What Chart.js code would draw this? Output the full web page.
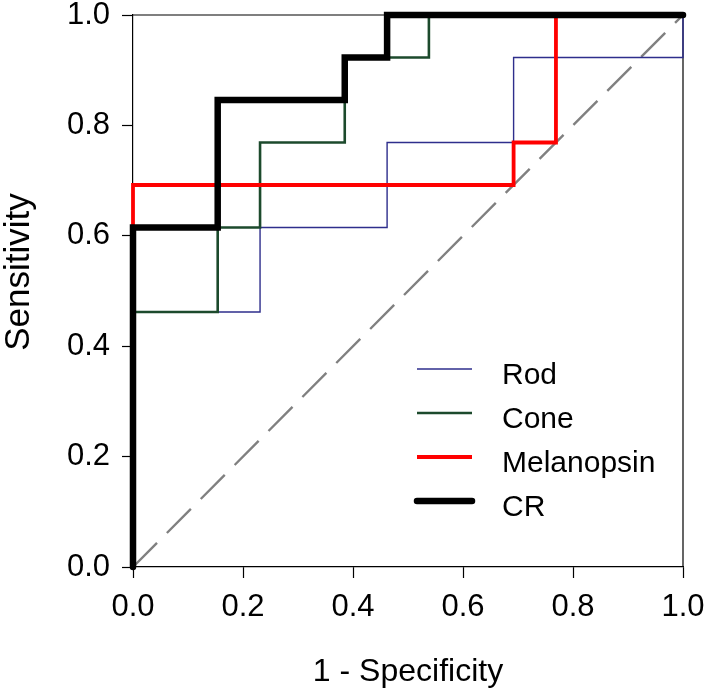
<!DOCTYPE html>
<html>
<head>
<meta charset="utf-8">
<script src="https://cdn.jsdelivr.net/npm/chart.js@4.4.0/dist/chart.umd.min.js"></script>
<style>
  body { margin: 0; background: #fff; }
</style>
</head>
<body>
<canvas id="rocChart" width="705" height="692"></canvas>
<script>

//// ROC curve vertices (1 - specificity, sensitivity) ////
const rodX  = [0, 0, 0.231, 0.231, 0.462, 0.462, 0.692, 0.692, 1, 1];
const rodY  = [0, 0.462, 0.462, 0.615, 0.615, 0.769, 0.769, 0.923, 0.923, 1];
const coneX = [0, 0, 0.154, 0.154, 0.231, 0.231, 0.385, 0.385, 0.538, 0.538, 1];
const coneY = [0, 0.462, 0.462, 0.615, 0.615, 0.769, 0.769, 0.923, 0.923, 1, 1];
const melX  = [0, 0, 0.692, 0.692, 0.769, 0.769, 1];
const melY  = [0, 0.692, 0.692, 0.769, 0.769, 1, 1];
const crX   = [0, 0, 0.154, 0.154, 0.385, 0.385, 0.462, 0.462, 1];
const crY   = [0, 0.615, 0.615, 0.846, 0.846, 0.923, 0.923, 1, 1];
const refX  = [0, 1];
const refY  = [0, 1];

const seriesNames = ['Rod', 'Cone', 'Melanopsin', 'CR'];
const tickValues = [0, 0.2, 0.4, 0.6, 0.8, 1.0];
const xTitle = '1 - Specificity';
const yTitle = 'Sensitivity';

const FONT = "'Liberation Sans', Arial, sans-serif";

function pts(xs, ys) {
    return xs.map((x, i) => ({x: x, y: ys[i]}));
}

// top + right border of the plot box
const frame = {
    id: 'frame',
    beforeDatasetsDraw(chart) {
        const a = chart.chartArea, ctx = chart.ctx;
        ctx.save();
        ctx.strokeStyle = '#000';
        ctx.lineWidth = 1.2;
        ctx.beginPath();
        ctx.moveTo(a.left, a.top);
        ctx.lineTo(a.right, a.top);
        ctx.lineTo(a.right, a.bottom);
        ctx.stroke();
        ctx.restore();
    }
};

// y title sits a bit above the middle of the axis in the original
const yTitlePlugin = {
    id: 'yTitlePlugin',
    afterDraw(chart) {
        const a = chart.chartArea, ctx = chart.ctx;
        ctx.save();
        ctx.translate(19, (a.top + a.bottom) / 2 - 19);
        ctx.rotate(-Math.PI / 2);
        ctx.fillStyle = '#000';
        ctx.font = '35px ' + FONT;
        ctx.textAlign = 'center';
        ctx.textBaseline = 'middle';
        ctx.fillText(yTitle, 0, 0);
        ctx.restore();
    }
};

// legend sitting inside the plot, lower right
const insideLegend = {
    id: 'insideLegend',
    afterDatasetsDraw(chart) {
        const a = chart.chartArea, ctx = chart.ctx;
        ctx.save();
        let row = 0;
        chart.data.datasets.forEach(function (ds) {
            if (!ds.label) return;
            const y = a.bottom - 198 + row * 44;
            ctx.strokeStyle = ds.borderColor;
            ctx.lineWidth = ds.borderWidth;
            ctx.lineCap = ds.borderCapStyle || 'butt';
            ctx.beginPath();
            ctx.moveTo(a.right - 266, y);
            ctx.lineTo(a.right - 211, y);
            ctx.stroke();
            ctx.fillStyle = '#000';
            ctx.font = '30px ' + FONT;
            ctx.textBaseline = 'alphabetic';
            ctx.textAlign = 'left';
            ctx.fillText(ds.label, a.right - 181, y + 15);
            row++;
        });
        ctx.restore();
    }
};

function render_chart() {
    const ctx = document.getElementById('rocChart');
    const myChart = new Chart(ctx, {
        type: 'scatter',
        data: {
            datasets: [{
                label: seriesNames[0],
                data: pts(rodX, rodY),
                borderColor: '#2e2e8c',
                borderWidth: 1.4,
                order: 4
            }, {
                label: seriesNames[1],
                data: pts(coneX, coneY),
                borderColor: '#1c4a2c',
                borderWidth: 2.6,
                order: 3
            }, {
                label: seriesNames[2],
                data: pts(melX, melY),
                borderColor: '#ff0000',
                borderWidth: 3.8,
                order: 2
            }, {
                label: seriesNames[3],
                data: pts(crX, crY),
                borderColor: '#000000',
                borderWidth: 6.5,
                borderCapStyle: 'round',
                order: 1
            }, {
                label: '',
                data: pts(refX, refY),
                borderColor: '#808080',
                borderWidth: 2.4,
                borderDash: [34, 14],
                order: 5
            }].map(function (d) {
                return Object.assign({
                    showLine: true,
                    pointRadius: 0,
                    pointHoverRadius: 0,
                    borderJoinStyle: 'miter',
                    clip: false,
                    tension: 0
                }, d);
            })
        },
        options: {
            responsive: false,
            animation: false,
            events: [],
            layout: {
                padding: {left: 0, right: 22, top: 15, bottom: 1}
            },
            plugins: {
                legend: {display: false},
                tooltip: {enabled: false}
            },
            scales: {
                x: {
                    type: 'linear',
                    min: 0,
                    max: 1,
                    afterBuildTicks: function (s) { s.ticks = tickValues.map(v => ({value: v})); },
                    afterFit: function (s) { s.height = 124; s.paddingLeft = 0; s.paddingRight = 0; },
                    grid: {drawOnChartArea: false, tickLength: 11, tickColor: '#000', tickWidth: 1.2},
                    border: {display: true, color: '#000', width: 1.2},
                    ticks: {
                        padding: 11,
                        color: '#000',
                        font: {family: FONT, size: 31},
                        maxRotation: 0,
                        callback: v => v.toFixed(1)
                    },
                    title: {
                        display: true,
                        text: xTitle,
                        color: '#000',
                        font: {family: FONT, size: 32},
                        padding: {top: 0, bottom: 0}
                    }
                },
                y: {
                    type: 'linear',
                    min: 0,
                    max: 1,
                    afterBuildTicks: function (s) { s.ticks = tickValues.map(v => ({value: v})); },
                    afterFit: function (s) { s.width = 133; s.paddingTop = 0; s.paddingBottom = 0; },
                    grid: {drawOnChartArea: false, tickLength: 11, tickColor: '#000', tickWidth: 1.2},
                    border: {display: true, color: '#000', width: 1.2},
                    ticks: {
                        padding: 12,
                        color: '#000',
                        font: {family: FONT, size: 31},
                        callback: v => v.toFixed(1)
                    },
                    title: {display: false}
                }
            }
        },
        plugins: [frame, insideLegend, yTitlePlugin]
    });
}

render_chart();
</script>
</body>
</html>
